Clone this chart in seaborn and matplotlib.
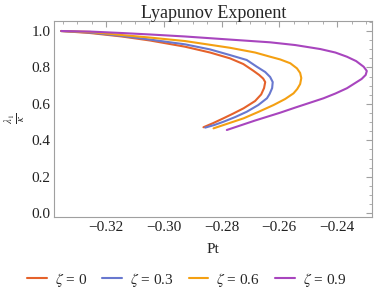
import numpy as np
import pandas as pd
import matplotlib
matplotlib.use("Agg")
import matplotlib.pyplot as plt
import seaborn as sns
from matplotlib.ticker import MultipleLocator, FuncFormatter

# ---- data ----
zeta_labels = [r"$\zeta$ = 0", r"$\zeta$ = 0.3", r"$\zeta$ = 0.6", r"$\zeta$ = 0.9"]

pt_z0 = [-0.3356, -0.3256, -0.3146, -0.3048, -0.2927, -0.2840, -0.2771, -0.2725, -0.2691, -0.2670,
         -0.2656, -0.2649, -0.2653, -0.2663, -0.2684, -0.2724, -0.2760, -0.2794, -0.2829, -0.2863]
ly_z0 = [1.000, 0.989, 0.970, 0.948, 0.914, 0.882, 0.850, 0.819, 0.783, 0.759,
         0.739, 0.720, 0.687, 0.652, 0.616, 0.576, 0.547, 0.521, 0.495, 0.472]

pt_z3 = [-0.3356, -0.3256, -0.3146, -0.3048, -0.2927, -0.2840, -0.2771, -0.2713, -0.2678, -0.2649,
         -0.2632, -0.2623, -0.2625, -0.2634, -0.2643, -0.2673, -0.2713, -0.2753, -0.2794, -0.2826, -0.2857]
ly_z3 = [1.000, 0.992, 0.973, 0.953, 0.927, 0.899, 0.868, 0.841, 0.804, 0.775,
         0.748, 0.720, 0.687, 0.654, 0.631, 0.594, 0.557, 0.528, 0.502, 0.484, 0.470]

pt_z6 = [-0.3356, -0.3256, -0.3146, -0.3048, -0.2927, -0.2771, -0.2684, -0.2632, -0.2597, -0.2562,
         -0.2539, -0.2528, -0.2524, -0.2528, -0.2538, -0.2551, -0.2580, -0.2620, -0.2673, -0.2724,
         -0.2777, -0.2828]
ly_z6 = [1.000, 0.995, 0.978, 0.964, 0.945, 0.908, 0.882, 0.859, 0.844, 0.823,
         0.795, 0.770, 0.742, 0.709, 0.682, 0.658, 0.627, 0.594, 0.556, 0.521,
         0.493, 0.466]

pt_z9 = [-0.3356, -0.3256, -0.3146, -0.3048, -0.2927, -0.2771, -0.2632, -0.2545, -0.2458, -0.2406,
         -0.2366, -0.2334, -0.2308, -0.2297, -0.2301, -0.2315, -0.2337, -0.2366, -0.2406, -0.2447,
         -0.2493, -0.2545, -0.2597, -0.2684, -0.2782]
ly_z9 = [1.000, 0.997, 0.989, 0.981, 0.970, 0.953, 0.938, 0.923, 0.901, 0.882,
         0.859, 0.835, 0.804, 0.781, 0.759, 0.737, 0.715, 0.686, 0.657, 0.631,
         0.607, 0.580, 0.552, 0.509, 0.457]

colors = ["#E5622B", "#6878CF", "#F4A012", "#A845BE"]

frames = []
for lab, xs, ys in zip(zeta_labels, [pt_z0, pt_z3, pt_z6, pt_z9], [ly_z0, ly_z3, ly_z6, ly_z9]):
    frames.append(pd.DataFrame({"Pt": xs, "lam": ys, "zeta": lab}))
df = pd.concat(frames, ignore_index=True)

sns.set_theme(style="white")
plt.rcParams["font.family"] = ["Liberation Serif", "DejaVu Serif"]
plt.rcParams["mathtext.fontset"] = "stix"

fig = plt.figure(figsize=(3.74, 2.93), dpi=100)
ax = fig.add_axes([0.1457, 0.2604, 0.849, 0.6689])

sns.lineplot(data=df, x="Pt", y="lam", hue="zeta", palette=colors, sort=False,
             estimator=None, linewidth=1.5, ax=ax, legend=True)

ax.set_xlim(-0.3379, -0.2279)
ax.set_ylim(-0.0187, 1.0565)

frame_col = "#A0A0A0"
for s in ax.spines.values():
    s.set_color(frame_col)
    s.set_linewidth(0.8)

ax.xaxis.set_major_locator(MultipleLocator(0.02))
ax.xaxis.set_minor_locator(MultipleLocator(0.005))
ax.yaxis.set_major_locator(MultipleLocator(0.2))
ax.yaxis.set_minor_locator(MultipleLocator(0.05))
ax.xaxis.set_major_formatter(FuncFormatter(lambda v, p: f"{v:.2f}".replace("-", "\u2212")))
ax.yaxis.set_major_formatter(FuncFormatter(lambda v, p: f"{v:.1f}"))
ax.tick_params(which="both", direction="in", top=True, right=True, color=frame_col,
               labelsize=11, labelcolor="#222222", pad=3)
ax.tick_params(which="major", length=4, width=0.8)
ax.tick_params(which="minor", length=2, width=0.6)

ax.set_title("Lyapunov Exponent", fontsize=13, pad=2)
ax.set_xlabel("Pt", fontsize=11, va="center")
ax.xaxis.set_label_coords(0.5, -0.165)
ax.set_ylabel(r"$\frac{\lambda_1}{\kappa}$", fontsize=11, rotation=90, va="center")
ax.yaxis.set_label_coords(-0.125, 0.5)

handles, labels = ax.get_legend_handles_labels()
ax.legend(handles, labels, ncol=4, loc="center", bbox_to_anchor=(0.416, -0.322),
          frameon=False, fontsize=11, handlelength=1.3, handletextpad=0.5,
          columnspacing=1.0)

fig.savefig("out.png", dpi=100)
